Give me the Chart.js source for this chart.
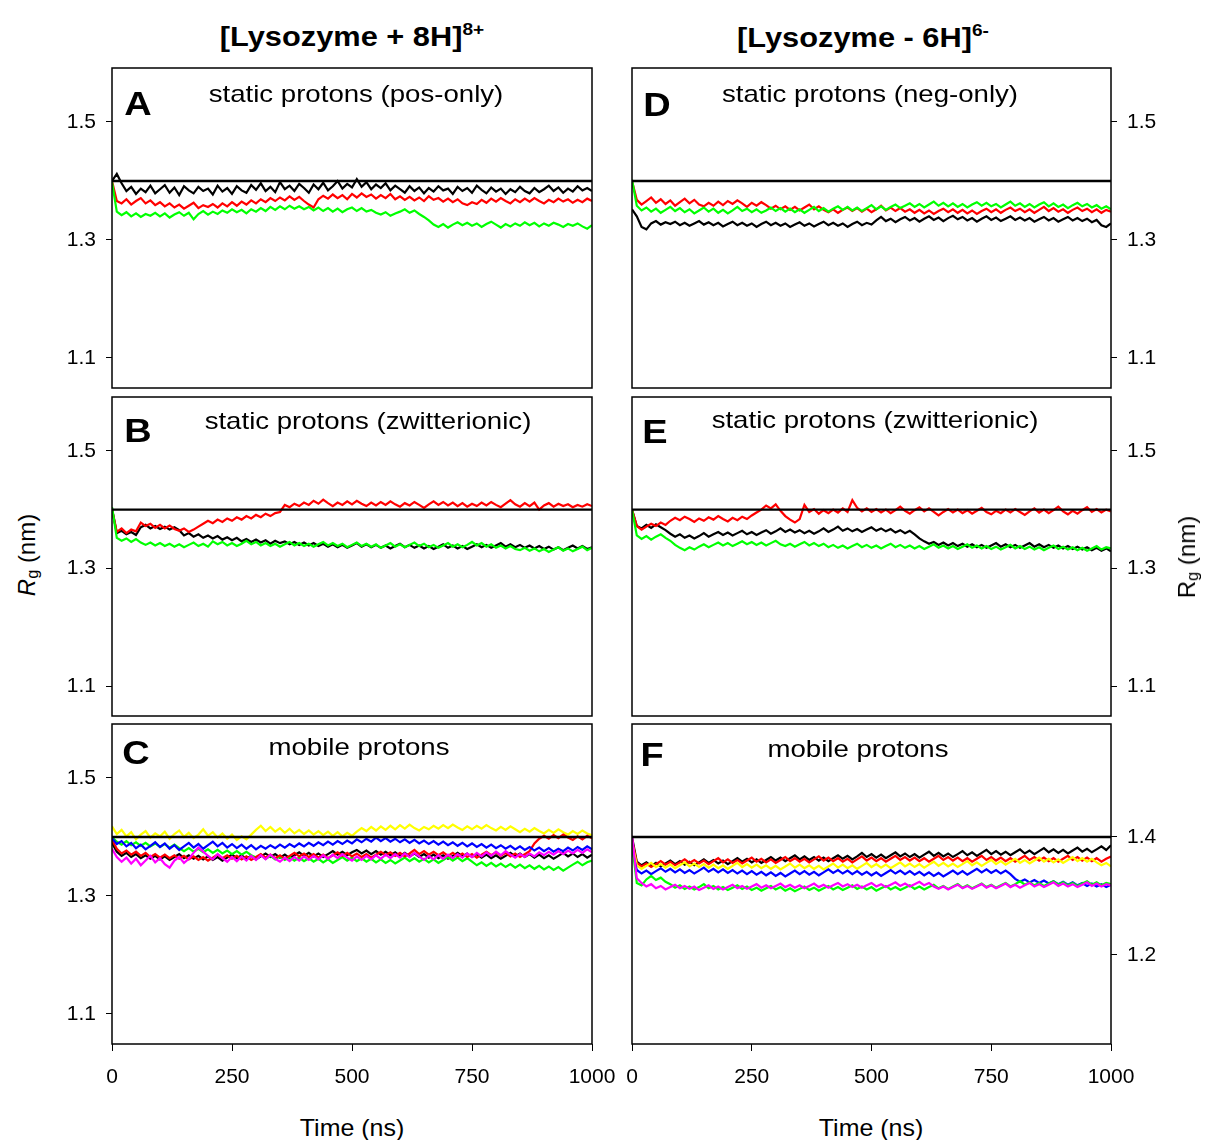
<!DOCTYPE html>
<html>
<head>
<meta charset="utf-8">
<script src="https://cdn.jsdelivr.net/npm/chart.js@4/dist/chart.umd.min.js"></script>
<style>
html,body{margin:0;padding:0;background:#fff;}
body{width:1207px;height:1140px;position:relative;overflow:hidden;font-family:Arial,"Liberation Sans",sans-serif;color:#000;}
.cv{position:absolute;}
.txt{position:absolute;white-space:nowrap;line-height:1;transform-origin:center center;}
.txt sup{font-size:0.62em;position:relative;top:-0.15em;vertical-align:top;}
.txt sub{font-size:0.68em;position:relative;top:0.1em;vertical-align:bottom;}
</style>
</head>
<body>
<script>
// ---------------- DATA ----------------
const time = [0,10,20,30,40,50,60,70,80,90,100,110,120,130,140,150,160,170,180,190,200,210,220,230,240,250,260,270,280,290,300,310,320,330,340,350,360,370,380,390,400,410,420,430,440,450,460,470,480,490,500,510,520,530,540,550,560,570,580,590,600,610,620,630,640,650,660,670,680,690,700,710,720,730,740,750,760,770,780,790,800,810,820,830,840,850,860,870,880,890,900,910,920,930,940,950,960,970,980,990,1000];
const timeTicks = [0,250,500,750,1000];
const yTicksMain = [1.1,1.3,1.5];
const yTicksF = [1.2,1.4];
const refLevel = 1.4;

// Panel A: static protons (pos-only), [Lysozyme + 8H]8+
const aBlack = [1.400,1.412,1.396,1.383,1.390,1.378,1.387,1.381,1.392,1.379,
1.386,1.393,1.380,1.389,1.376,1.391,1.384,1.379,1.390,1.383,
1.387,1.377,1.392,1.382,1.388,1.378,1.391,1.384,1.380,1.393,
1.385,1.396,1.383,1.390,1.381,1.398,1.386,1.392,1.383,1.395,
1.388,1.380,1.394,1.386,1.397,1.384,1.391,1.400,1.387,1.395,
1.389,1.403,1.390,1.398,1.386,1.394,1.388,1.396,1.384,1.392,
1.386,1.380,1.391,1.383,1.389,1.379,1.388,1.382,1.391,1.384,
1.387,1.378,1.390,1.383,1.388,1.380,1.392,1.385,1.379,1.389,
1.382,1.387,1.378,1.386,1.381,1.390,1.383,1.379,1.388,1.381,
1.386,1.392,1.383,1.389,1.380,1.387,1.382,1.391,1.384,1.388,1.383];
const aRed = [1.400,1.366,1.362,1.369,1.360,1.366,1.371,1.362,1.367,1.359,
1.364,1.357,1.362,1.355,1.360,1.353,1.358,1.363,1.354,1.359,
1.356,1.361,1.355,1.362,1.357,1.364,1.358,1.365,1.360,1.367,
1.362,1.369,1.364,1.371,1.366,1.372,1.367,1.374,1.368,1.373,
1.366,1.360,1.355,1.369,1.375,1.370,1.377,1.371,1.376,1.369,
1.378,1.372,1.379,1.373,1.377,1.370,1.376,1.371,1.378,1.369,
1.374,1.368,1.373,1.367,1.372,1.366,1.374,1.368,1.371,1.365,
1.370,1.364,1.369,1.362,1.359,1.364,1.361,1.368,1.363,1.370,
1.365,1.371,1.366,1.362,1.369,1.364,1.370,1.365,1.371,1.366,
1.362,1.368,1.364,1.370,1.365,1.369,1.363,1.368,1.364,1.370,1.366];
const aGreen = [1.398,1.348,1.342,1.347,1.340,1.345,1.339,1.344,1.341,1.346,
1.340,1.345,1.338,1.343,1.347,1.341,1.346,1.335,1.344,1.349,
1.343,1.348,1.344,1.350,1.346,1.352,1.347,1.351,1.345,1.352,
1.348,1.354,1.349,1.356,1.351,1.357,1.352,1.358,1.353,1.357,
1.352,1.356,1.350,1.355,1.349,1.354,1.348,1.353,1.347,1.352,
1.355,1.349,1.354,1.348,1.351,1.346,1.343,1.347,1.341,1.345,
1.348,1.352,1.346,1.350,1.344,1.339,1.333,1.326,1.322,1.327,
1.321,1.326,1.330,1.325,1.329,1.324,1.328,1.322,1.327,1.331,
1.326,1.321,1.327,1.323,1.328,1.324,1.330,1.325,1.329,1.323,
1.328,1.324,1.329,1.326,1.322,1.327,1.324,1.328,1.323,1.319,1.325];

// Panel B: static protons (zwitterionic), 8+
const bRed = [1.400,1.362,1.368,1.360,1.366,1.363,1.378,1.372,1.376,1.369,
1.374,1.368,1.373,1.367,1.364,1.368,1.362,1.366,1.371,1.376,
1.381,1.377,1.383,1.379,1.385,1.381,1.387,1.383,1.389,1.385,
1.391,1.387,1.393,1.389,1.394,1.396,1.408,1.404,1.410,1.406,
1.412,1.408,1.415,1.410,1.417,1.411,1.406,1.412,1.408,1.414,
1.409,1.415,1.410,1.406,1.412,1.407,1.413,1.408,1.414,1.409,
1.405,1.411,1.407,1.413,1.408,1.403,1.409,1.414,1.408,1.413,
1.407,1.412,1.406,1.411,1.405,1.410,1.406,1.412,1.407,1.413,
1.408,1.404,1.410,1.416,1.409,1.405,1.411,1.406,1.412,1.400,
1.407,1.411,1.405,1.410,1.406,1.409,1.404,1.408,1.405,1.409,1.406];
const bBlack = [1.402,1.360,1.364,1.358,1.362,1.357,1.370,1.374,1.368,1.372,
1.367,1.371,1.366,1.370,1.365,1.356,1.360,1.354,1.358,1.352,
1.356,1.351,1.355,1.349,1.353,1.348,1.352,1.346,1.350,1.345,
1.349,1.344,1.348,1.342,1.347,1.343,1.346,1.341,1.345,1.340,
1.344,1.339,1.343,1.338,1.342,1.337,1.341,1.336,1.340,1.335,
1.339,1.343,1.337,1.341,1.336,1.340,1.335,1.339,1.334,1.338,
1.342,1.336,1.340,1.335,1.339,1.334,1.338,1.333,1.337,1.341,
1.335,1.339,1.334,1.338,1.333,1.337,1.341,1.336,1.340,1.335,
1.339,1.343,1.337,1.341,1.336,1.340,1.335,1.339,1.334,1.338,
1.333,1.337,1.332,1.336,1.331,1.335,1.339,1.334,1.338,1.333,1.336];
const bGreen = [1.404,1.352,1.347,1.351,1.345,1.350,1.344,1.340,1.344,1.339,
1.343,1.338,1.342,1.337,1.341,1.336,1.340,1.344,1.338,1.342,
1.337,1.346,1.341,1.345,1.339,1.343,1.338,1.342,1.347,1.341,
1.345,1.339,1.343,1.338,1.342,1.337,1.341,1.345,1.339,1.343,
1.338,1.342,1.337,1.341,1.345,1.339,1.343,1.338,1.342,1.336,
1.340,1.344,1.338,1.342,1.337,1.341,1.335,1.339,1.343,1.337,
1.341,1.336,1.340,1.344,1.338,1.342,1.336,1.340,1.335,1.339,
1.343,1.337,1.341,1.336,1.340,1.345,1.339,1.343,1.337,1.341,
1.335,1.339,1.334,1.338,1.333,1.331,1.335,1.330,1.334,1.329,
1.333,1.328,1.332,1.336,1.330,1.334,1.329,1.333,1.337,1.331,1.335];

// Panel C: mobile protons, 8+
const cYellow = [1.418,1.405,1.412,1.401,1.408,1.396,1.404,1.410,1.399,1.406,
1.401,1.409,1.397,1.405,1.411,1.400,1.407,1.398,1.404,1.413,
1.402,1.408,1.399,1.406,1.397,1.404,1.395,1.401,1.396,1.404,
1.412,1.419,1.410,1.417,1.409,1.415,1.407,1.414,1.406,1.412,
1.405,1.411,1.404,1.410,1.403,1.409,1.402,1.408,1.401,1.407,
1.402,1.409,1.415,1.410,1.417,1.411,1.418,1.412,1.419,1.413,
1.420,1.414,1.421,1.415,1.411,1.417,1.413,1.419,1.414,1.420,
1.415,1.421,1.416,1.412,1.418,1.413,1.419,1.414,1.420,1.415,
1.411,1.417,1.412,1.418,1.413,1.408,1.414,1.409,1.415,1.410,
1.406,1.412,1.407,1.413,1.408,1.404,1.410,1.405,1.411,1.406,1.403];
const cBlack = [1.390,1.375,1.368,1.373,1.366,1.371,1.364,1.369,1.363,1.368,
1.362,1.367,1.361,1.366,1.371,1.364,1.369,1.363,1.368,1.362,
1.367,1.361,1.366,1.360,1.365,1.370,1.364,1.369,1.363,1.368,
1.362,1.367,1.372,1.366,1.371,1.365,1.370,1.364,1.369,1.374,
1.368,1.373,1.367,1.372,1.366,1.371,1.376,1.370,1.375,1.369,
1.374,1.378,1.372,1.377,1.371,1.376,1.370,1.375,1.369,1.374,
1.368,1.373,1.367,1.372,1.366,1.371,1.365,1.370,1.364,1.369,
1.363,1.368,1.373,1.367,1.372,1.366,1.371,1.365,1.370,1.364,
1.369,1.363,1.368,1.373,1.367,1.372,1.366,1.371,1.365,1.370,
1.364,1.369,1.363,1.368,1.373,1.367,1.372,1.366,1.371,1.365,1.370];
const cGreen = [1.400,1.392,1.387,1.393,1.386,1.391,1.385,1.390,1.384,1.389,
1.383,1.388,1.382,1.387,1.381,1.376,1.381,1.375,1.380,1.374,
1.379,1.373,1.378,1.372,1.377,1.371,1.376,1.370,1.375,1.369,
1.365,1.370,1.363,1.368,1.362,1.367,1.361,1.366,1.360,1.365,
1.359,1.364,1.358,1.363,1.357,1.362,1.356,1.361,1.366,1.360,
1.365,1.359,1.364,1.358,1.363,1.357,1.362,1.356,1.361,1.355,
1.360,1.365,1.359,1.364,1.358,1.363,1.357,1.362,1.356,1.361,
1.366,1.360,1.365,1.359,1.364,1.358,1.352,1.357,1.351,1.356,
1.350,1.355,1.349,1.354,1.348,1.353,1.347,1.352,1.346,1.351,
1.345,1.350,1.344,1.349,1.343,1.348,1.353,1.358,1.352,1.357,1.360];
const cRed = [1.395,1.380,1.372,1.377,1.370,1.375,1.368,1.373,1.366,1.371,
1.365,1.370,1.364,1.369,1.363,1.368,1.362,1.367,1.361,1.366,
1.360,1.365,1.370,1.364,1.369,1.363,1.368,1.362,1.367,1.361,
1.366,1.371,1.365,1.370,1.364,1.369,1.363,1.368,1.373,1.367,
1.372,1.366,1.371,1.365,1.370,1.364,1.369,1.374,1.368,1.373,
1.367,1.372,1.366,1.371,1.365,1.370,1.375,1.369,1.374,1.368,
1.373,1.367,1.372,1.378,1.371,1.376,1.370,1.375,1.369,1.374,
1.368,1.373,1.367,1.372,1.366,1.371,1.365,1.370,1.375,1.369,
1.374,1.368,1.373,1.367,1.372,1.366,1.371,1.376,1.389,1.397,
1.402,1.397,1.403,1.398,1.404,1.399,1.395,1.401,1.396,1.402,1.398];
const cBlue = [1.398,1.388,1.393,1.384,1.390,1.381,1.387,1.379,1.385,1.391,
1.383,1.389,1.380,1.386,1.378,1.384,1.390,1.382,1.388,1.380,
1.386,1.392,1.384,1.390,1.382,1.388,1.381,1.387,1.380,1.386,
1.379,1.385,1.380,1.386,1.381,1.387,1.382,1.388,1.383,1.389,
1.384,1.390,1.385,1.391,1.386,1.392,1.387,1.393,1.388,1.394,
1.389,1.396,1.391,1.397,1.392,1.399,1.393,1.398,1.392,1.397,
1.391,1.396,1.390,1.395,1.389,1.394,1.388,1.393,1.387,1.392,
1.386,1.391,1.385,1.390,1.384,1.389,1.383,1.388,1.382,1.387,
1.381,1.386,1.380,1.385,1.379,1.384,1.378,1.383,1.377,1.382,
1.376,1.381,1.375,1.380,1.376,1.382,1.377,1.383,1.378,1.384,1.379];
const cMagenta = [1.380,1.366,1.358,1.365,1.355,1.363,1.352,1.360,1.368,1.357,
1.364,1.354,1.348,1.360,1.366,1.356,1.363,1.373,1.382,1.375,
1.368,1.362,1.371,1.364,1.358,1.366,1.359,1.367,1.360,1.368,
1.361,1.369,1.362,1.370,1.363,1.358,1.365,1.359,1.366,1.360,
1.367,1.361,1.368,1.362,1.369,1.363,1.370,1.364,1.371,1.365,
1.360,1.367,1.361,1.368,1.362,1.369,1.363,1.370,1.364,1.371,
1.365,1.372,1.366,1.373,1.367,1.361,1.368,1.362,1.369,1.363,
1.370,1.364,1.371,1.365,1.372,1.366,1.373,1.367,1.374,1.368,
1.375,1.369,1.376,1.370,1.365,1.371,1.366,1.372,1.367,1.374,
1.369,1.375,1.370,1.376,1.371,1.377,1.372,1.378,1.373,1.379,1.374];

// Panel D: static protons (neg-only), [Lysozyme - 6H]6-
const dBlack = [1.352,1.340,1.322,1.318,1.328,1.332,1.326,1.330,1.327,1.331,
1.325,1.329,1.324,1.328,1.332,1.326,1.330,1.325,1.329,1.323,
1.327,1.331,1.325,1.329,1.324,1.328,1.322,1.327,1.331,1.325,
1.329,1.324,1.328,1.322,1.326,1.330,1.324,1.328,1.323,1.327,
1.331,1.325,1.329,1.324,1.328,1.322,1.327,1.331,1.325,1.329,
1.326,1.333,1.339,1.332,1.336,1.330,1.335,1.339,1.333,1.337,
1.331,1.336,1.340,1.334,1.338,1.332,1.337,1.341,1.335,1.339,
1.333,1.337,1.331,1.336,1.340,1.334,1.338,1.332,1.336,1.340,
1.334,1.338,1.333,1.337,1.331,1.335,1.339,1.333,1.337,1.331,
1.335,1.339,1.333,1.337,1.332,1.336,1.330,1.334,1.325,1.322,1.328];
const dRed = [1.400,1.368,1.360,1.366,1.372,1.363,1.369,1.361,1.367,1.358,
1.364,1.370,1.362,1.368,1.360,1.357,1.363,1.358,1.365,1.359,
1.366,1.361,1.367,1.362,1.356,1.363,1.358,1.364,1.359,1.353,
1.358,1.352,1.357,1.351,1.356,1.350,1.355,1.360,1.352,1.357,
1.351,1.347,1.352,1.346,1.351,1.355,1.349,1.354,1.348,1.353,
1.347,1.352,1.358,1.350,1.355,1.349,1.354,1.348,1.352,1.346,
1.351,1.345,1.350,1.344,1.349,1.353,1.347,1.352,1.346,1.351,
1.345,1.350,1.344,1.349,1.353,1.347,1.352,1.346,1.351,1.355,
1.349,1.353,1.347,1.352,1.346,1.351,1.356,1.349,1.354,1.348,
1.352,1.346,1.351,1.355,1.349,1.353,1.347,1.352,1.346,1.351,1.348];
const dGreen = [1.402,1.358,1.350,1.355,1.348,1.353,1.346,1.351,1.356,1.349,
1.354,1.347,1.352,1.345,1.350,1.355,1.348,1.353,1.346,1.351,
1.345,1.350,1.356,1.349,1.353,1.347,1.352,1.346,1.350,1.355,
1.349,1.354,1.348,1.353,1.347,1.352,1.346,1.351,1.356,1.349,
1.354,1.348,1.353,1.357,1.351,1.356,1.350,1.355,1.349,1.354,
1.359,1.352,1.357,1.351,1.356,1.360,1.354,1.358,1.362,1.356,
1.361,1.355,1.360,1.365,1.358,1.363,1.357,1.362,1.356,1.361,
1.355,1.360,1.364,1.358,1.363,1.357,1.361,1.355,1.360,1.365,
1.358,1.362,1.356,1.361,1.355,1.360,1.364,1.357,1.362,1.356,
1.360,1.354,1.359,1.363,1.357,1.361,1.355,1.359,1.353,1.357,1.352];

// Panel E: static protons (zwitterionic), 6-
const eBlack = [1.400,1.372,1.368,1.374,1.369,1.375,1.370,1.365,1.359,1.354,
1.358,1.352,1.356,1.351,1.355,1.360,1.354,1.358,1.362,1.357,
1.361,1.356,1.360,1.364,1.358,1.362,1.357,1.361,1.365,1.359,
1.363,1.368,1.362,1.366,1.361,1.365,1.360,1.364,1.359,1.363,
1.368,1.362,1.366,1.371,1.364,1.368,1.363,1.367,1.362,1.366,
1.370,1.364,1.368,1.363,1.367,1.361,1.365,1.360,1.364,1.358,
1.351,1.346,1.342,1.345,1.340,1.344,1.339,1.343,1.338,1.342,
1.337,1.341,1.336,1.340,1.335,1.339,1.343,1.337,1.341,1.336,
1.340,1.335,1.339,1.343,1.337,1.341,1.336,1.340,1.335,1.339,
1.334,1.338,1.333,1.337,1.332,1.336,1.331,1.335,1.330,1.334,1.329];
const eRed = [1.400,1.372,1.366,1.371,1.376,1.372,1.378,1.374,1.381,1.386,
1.382,1.388,1.384,1.379,1.385,1.381,1.387,1.383,1.389,1.384,
1.380,1.386,1.382,1.388,1.384,1.390,1.395,1.400,1.407,1.402,
1.409,1.398,1.389,1.383,1.378,1.384,1.408,1.396,1.401,1.393,
1.399,1.394,1.400,1.395,1.402,1.396,1.416,1.403,1.397,1.402,
1.396,1.401,1.395,1.400,1.394,1.399,1.405,1.398,1.393,1.399,
1.404,1.397,1.402,1.396,1.390,1.396,1.401,1.395,1.400,1.394,
1.399,1.393,1.398,1.403,1.396,1.392,1.398,1.394,1.400,1.395,
1.401,1.396,1.391,1.397,1.402,1.395,1.400,1.394,1.399,1.405,
1.397,1.392,1.398,1.393,1.399,1.404,1.396,1.401,1.395,1.400,1.397];
const eGreen = [1.400,1.356,1.350,1.355,1.349,1.354,1.358,1.352,1.347,1.340,
1.335,1.331,1.336,1.332,1.337,1.341,1.336,1.340,1.344,1.339,
1.343,1.338,1.342,1.346,1.341,1.345,1.340,1.344,1.339,1.343,
1.347,1.341,1.338,1.342,1.337,1.341,1.345,1.339,1.343,1.338,
1.342,1.336,1.340,1.335,1.339,1.334,1.338,1.342,1.336,1.340,
1.335,1.339,1.334,1.338,1.342,1.336,1.340,1.335,1.339,1.334,
1.338,1.333,1.337,1.341,1.335,1.339,1.334,1.338,1.333,1.337,
1.341,1.335,1.339,1.334,1.338,1.333,1.337,1.332,1.336,1.340,
1.334,1.338,1.333,1.337,1.332,1.336,1.331,1.335,1.339,1.333,
1.337,1.332,1.336,1.331,1.335,1.330,1.334,1.338,1.332,1.336,1.334];

// Panel F: mobile protons, 6-
const fBlack = [1.400,1.358,1.352,1.357,1.351,1.356,1.350,1.355,1.360,1.354,
1.359,1.353,1.358,1.352,1.357,1.362,1.356,1.361,1.355,1.360,
1.354,1.359,1.364,1.358,1.363,1.357,1.362,1.356,1.361,1.366,
1.360,1.365,1.359,1.364,1.369,1.362,1.367,1.361,1.366,1.360,
1.365,1.359,1.364,1.369,1.363,1.368,1.362,1.367,1.373,1.366,
1.371,1.365,1.370,1.364,1.369,1.374,1.367,1.372,1.366,1.371,
1.365,1.370,1.375,1.368,1.373,1.367,1.372,1.366,1.371,1.376,
1.369,1.374,1.368,1.373,1.378,1.371,1.376,1.370,1.375,1.369,
1.374,1.379,1.372,1.377,1.371,1.376,1.381,1.374,1.379,1.373,
1.378,1.372,1.377,1.382,1.375,1.380,1.374,1.379,1.384,1.378,1.386];
const fRed = [1.395,1.356,1.350,1.355,1.349,1.354,1.359,1.353,1.358,1.352,
1.357,1.362,1.356,1.361,1.355,1.360,1.354,1.359,1.364,1.357,
1.362,1.356,1.361,1.355,1.360,1.365,1.358,1.363,1.357,1.362,
1.356,1.361,1.366,1.359,1.364,1.358,1.363,1.357,1.362,1.367,
1.360,1.365,1.359,1.364,1.358,1.363,1.357,1.362,1.367,1.360,
1.365,1.359,1.364,1.358,1.363,1.368,1.361,1.366,1.360,1.365,
1.359,1.364,1.358,1.363,1.368,1.361,1.366,1.360,1.365,1.359,
1.364,1.358,1.363,1.368,1.361,1.366,1.360,1.365,1.359,1.364,
1.358,1.363,1.368,1.361,1.366,1.360,1.365,1.359,1.364,1.358,
1.363,1.368,1.361,1.366,1.360,1.365,1.359,1.364,1.358,1.363,1.367];
const fYellow = [1.392,1.352,1.346,1.351,1.356,1.349,1.354,1.348,1.353,1.347,
1.352,1.357,1.350,1.355,1.349,1.354,1.348,1.353,1.347,1.352,
1.346,1.351,1.356,1.349,1.354,1.348,1.353,1.347,1.352,1.346,
1.351,1.345,1.350,1.355,1.348,1.353,1.347,1.352,1.346,1.351,
1.345,1.350,1.355,1.348,1.353,1.347,1.352,1.346,1.351,1.356,
1.349,1.354,1.348,1.353,1.347,1.352,1.357,1.350,1.355,1.349,
1.354,1.348,1.353,1.358,1.351,1.356,1.350,1.355,1.349,1.354,
1.359,1.352,1.357,1.351,1.356,1.361,1.354,1.359,1.353,1.358,
1.363,1.356,1.361,1.355,1.360,1.365,1.358,1.363,1.357,1.362,
1.356,1.361,1.366,1.359,1.364,1.358,1.363,1.357,1.352,1.356,1.350];
const fBlue = [1.380,1.344,1.338,1.343,1.337,1.342,1.347,1.341,1.346,1.340,
1.345,1.339,1.344,1.338,1.343,1.348,1.341,1.346,1.340,1.345,
1.339,1.344,1.338,1.343,1.337,1.342,1.336,1.341,1.335,1.340,
1.334,1.339,1.333,1.338,1.343,1.337,1.342,1.336,1.341,1.335,
1.340,1.345,1.339,1.344,1.338,1.343,1.337,1.342,1.336,1.341,
1.335,1.340,1.334,1.339,1.344,1.338,1.343,1.337,1.342,1.336,
1.341,1.335,1.340,1.334,1.339,1.333,1.338,1.343,1.337,1.342,
1.336,1.341,1.346,1.340,1.345,1.339,1.344,1.338,1.343,1.337,
1.329,1.324,1.328,1.323,1.327,1.322,1.326,1.321,1.325,1.320,
1.324,1.319,1.323,1.318,1.322,1.317,1.321,1.316,1.320,1.315,1.319];
const fGreen = [1.390,1.322,1.318,1.328,1.334,1.327,1.331,1.324,1.320,1.314,
1.318,1.312,1.316,1.311,1.315,1.320,1.313,1.317,1.311,1.315,
1.310,1.314,1.318,1.312,1.316,1.310,1.314,1.309,1.313,1.317,
1.311,1.315,1.309,1.313,1.308,1.312,1.316,1.310,1.314,1.309,
1.313,1.317,1.311,1.315,1.310,1.314,1.318,1.312,1.316,1.311,
1.315,1.309,1.313,1.317,1.311,1.315,1.310,1.314,1.318,1.312,
1.316,1.311,1.315,1.319,1.313,1.317,1.312,1.316,1.320,1.314,
1.318,1.313,1.317,1.321,1.315,1.319,1.314,1.318,1.322,1.316,
1.320,1.325,1.319,1.323,1.318,1.322,1.317,1.321,1.325,1.319,
1.323,1.318,1.322,1.317,1.321,1.325,1.319,1.323,1.318,1.322,1.320];
const fMagenta = [1.402,1.330,1.322,1.316,1.320,1.313,1.317,1.311,1.315,1.319,
1.313,1.317,1.312,1.316,1.310,1.314,1.318,1.312,1.316,1.311,
1.315,1.319,1.313,1.317,1.312,1.316,1.320,1.314,1.318,1.313,
1.317,1.321,1.315,1.319,1.314,1.318,1.313,1.317,1.321,1.315,
1.319,1.314,1.318,1.322,1.316,1.320,1.315,1.319,1.314,1.318,
1.322,1.316,1.320,1.315,1.319,1.323,1.317,1.321,1.316,1.320,
1.324,1.318,1.322,1.316,1.312,1.316,1.311,1.315,1.319,1.313,
1.317,1.312,1.316,1.320,1.314,1.318,1.313,1.317,1.321,1.315,
1.319,1.314,1.318,1.322,1.316,1.320,1.315,1.319,1.323,1.317,
1.321,1.316,1.320,1.315,1.319,1.323,1.317,1.321,1.316,1.320,1.318];

// ---------------- STYLE / LAYOUT ----------------
const COL = {black:'#000000', red:'#ff0000', green:'#00ff00', blue:'#0000ff', yellow:'#ffff00', magenta:'#ff00ff'};
const FONT = 'Arial, "Liberation Sans", sans-serif';
const Y_MIN = 1.049, Y_MAX = 1.5915;

const panels = [
  {box:{l:112,t:68,r:592,b:388},  side:'left',  showX:false, yTicks:yTicksMain,
   series:[[aBlack,COL.black],[aRed,COL.red],[aGreen,COL.green]]},
  {box:{l:112,t:397,r:592,b:716}, side:'left',  showX:false, yTicks:yTicksMain,
   series:[[bBlack,COL.black],[bRed,COL.red],[bGreen,COL.green]]},
  {box:{l:112,t:724,r:592,b:1044},side:'left',  showX:true,  yTicks:yTicksMain,
   series:[[cYellow,COL.yellow],[cBlack,COL.black],[cGreen,COL.green],[cRed,COL.red],[cBlue,COL.blue],[cMagenta,COL.magenta]]},
  {box:{l:632,t:68,r:1111,b:388}, side:'right', showX:false, yTicks:yTicksMain,
   series:[[dBlack,COL.black],[dRed,COL.red],[dGreen,COL.green]]},
  {box:{l:632,t:397,r:1111,b:716},side:'right', showX:false, yTicks:yTicksMain,
   series:[[eBlack,COL.black],[eRed,COL.red],[eGreen,COL.green]]},
  {box:{l:632,t:724,r:1111,b:1044},side:'right',showX:true,  yTicks:yTicksF,
   series:[[fBlack,COL.black],[fRed,COL.red],[fYellow,COL.yellow],[fBlue,COL.blue],[fGreen,COL.green],[fMagenta,COL.magenta]]}
];

const framePlugin = {
  id:'frame',
  afterDraw(chart){
    const a = chart.chartArea, ctx = chart.ctx;
    ctx.save();
    ctx.strokeStyle = '#000'; ctx.lineWidth = 1.5;
    ctx.strokeRect(a.left, a.top, a.right - a.left, a.bottom - a.top);
    ctx.restore();
  }
};

function makePanel(p){
  const ML = p.side === 'left' ? 70 : 40;
  const MR = p.side === 'right' ? 70 : 40;
  const MT = 4;
  const MB = p.showX ? 60 : 4;
  const w = p.box.r - p.box.l + ML + MR;
  const h = p.box.b - p.box.t + MT + MB;
  const cv = document.createElement('canvas');
  cv.className = 'cv';
  cv.width = w; cv.height = h;
  cv.style.left = (p.box.l - ML) + 'px';
  cv.style.top = (p.box.t - MT) + 'px';
  cv.style.width = w + 'px'; cv.style.height = h + 'px';
  document.body.appendChild(cv);

  const n = p.series.length;
  const datasets = p.series.map((s, i) => ({
    data: s[0].map((v, k) => ({x: time[k], y: v})),
    borderColor: s[1], borderWidth: 2.2, pointRadius: 0, fill: false, tension: 0,
    order: n - i + 1
  }));
  datasets.push({
    data: [{x: time[0], y: refLevel}, {x: time[time.length - 1], y: refLevel}],
    borderColor: '#000', borderWidth: 2.4, pointRadius: 0, fill: false, order: 0
  });

  new Chart(cv, {
    type: 'line',
    data: {datasets},
    options: {
      responsive: false, animation: false, devicePixelRatio: 1,
      layout: {padding: {
        top: MT,
        bottom: p.showX ? 0 : MB,
        left: p.side === 'left' ? 0 : ML,
        right: p.side === 'right' ? 0 : MR
      }},
      plugins: {legend: {display: false}, tooltip: {enabled: false}},
      scales: {
        x: {
          type: 'linear', min: 0, max: 1000, display: p.showX,
          afterBuildTicks: s => { s.ticks = timeTicks.map(v => ({value: v})); },
          afterFit: s => {
            if (p.showX) s.height = MB;
            s.paddingLeft = 0; s.paddingRight = 0; s.paddingTop = 0; s.paddingBottom = 0;
          },
          border: {display: false},
          grid: {drawOnChartArea: false, drawTicks: true, tickLength: 7, color: '#000', lineWidth: 1},
          ticks: {color: '#000', font: {family: FONT, size: 21}, padding: 14, maxRotation: 0,
                  callback: v => String(v)}
        },
        y: {
          type: 'linear', min: Y_MIN, max: Y_MAX, position: p.side,
          afterBuildTicks: s => { s.ticks = p.yTicks.map(v => ({value: v})); },
          afterFit: s => { s.width = p.side === 'left' ? ML : MR; s.paddingTop = 0; s.paddingBottom = 0; s.paddingLeft = 0; s.paddingRight = 0; },
          border: {display: false},
          grid: {drawOnChartArea: false, drawTicks: true, tickLength: 6, color: '#000', lineWidth: 1},
          ticks: {color: '#000', font: {family: FONT, size: 21}, padding: 10,
                  callback: v => Number(v).toFixed(1)}
        }
      }
    },
    plugins: [framePlugin]
  });
}
panels.forEach(makePanel);

// ---------------- TEXT ----------------
function addText(html, cx, cy, size, opts){
  opts = opts || {};
  const d = document.createElement('div');
  d.className = 'txt';
  d.innerHTML = html;
  d.style.fontSize = size + 'px';
  d.style.fontWeight = opts.bold ? 'bold' : 'normal';
  d.style.left = cx + 'px';
  d.style.top = cy + 'px';
  d.style.transform = 'translate(-50%,-50%) rotate(' + (opts.rot || 0) + 'deg) scaleX(' + (opts.sx || 1) + ')';
  document.body.appendChild(d);
}
addText('[Lysozyme + 8H]<sup>8+</sup>', 352, 37, 27, {bold:true, sx:1.14});
addText('[Lysozyme - 6H]<sup>6-</sup>', 863, 38, 27, {bold:true, sx:1.14});

addText('static protons (pos-only)', 356, 94, 24, {sx:1.15});
addText('static protons (zwitterionic)', 368, 421, 24, {sx:1.15});
addText('mobile protons', 359, 747, 24, {sx:1.15});
addText('static protons (neg-only)', 870, 94, 24, {sx:1.15});
addText('static protons (zwitterionic)', 875, 420, 24, {sx:1.15});
addText('mobile protons', 858, 749, 24, {sx:1.15});

addText('A', 138, 103, 33, {bold:true, sx:1.15});
addText('B', 138, 430, 33, {bold:true, sx:1.15});
addText('C', 136, 752, 33, {bold:true, sx:1.15});
addText('D', 657, 104, 33, {bold:true, sx:1.15});
addText('E', 655, 431, 33, {bold:true, sx:1.15});
addText('F', 652, 754, 33, {bold:true, sx:1.15});

addText('Time (ns)', 352, 1128, 24, {sx:1.04});
addText('Time (ns)', 871, 1128, 24, {sx:1.04});
addText('<i>R</i><sub>g</sub> (nm)', 27, 555, 24, {rot:-90});
addText('R<sub>g</sub> (nm)', 1187, 557, 24, {rot:-90});
</script>
</body>
</html>
